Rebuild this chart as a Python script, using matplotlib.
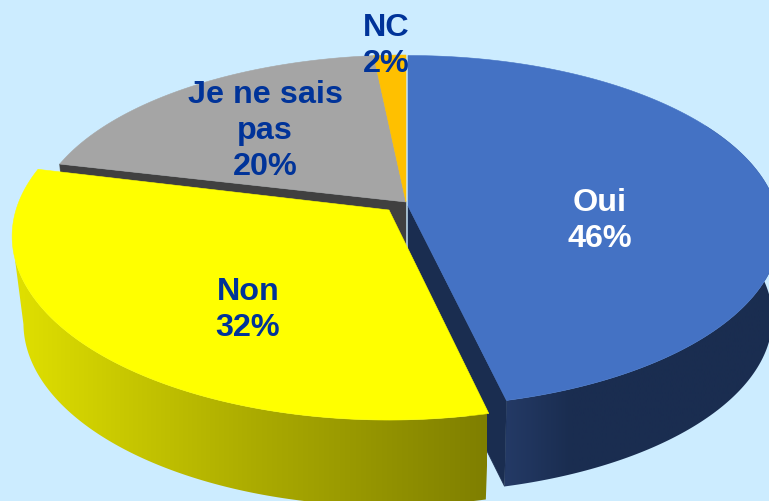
import itertools
import numpy as np
import matplotlib
matplotlib.use("Agg")
import matplotlib.pyplot as plt
from matplotlib.colors import LinearSegmentedColormap
from matplotlib.patches import Polygon

# shares (labels show them rounded)
categories = ["Oui", "Non", "Je ne sais\npas", "NC"]
shares = [46.3, 32.45, 19.65, 1.6]

BG = "#CCECFF"
TOP_COLORS = ["#4472C4", "#FFFF00", "#A5A5A5", "#FFC000"]
LABEL_COLORS = ["white", "#003399", "#003399", "#003399"]
LABEL_POS = [(600, 221), (248, 310), (265, 131), (386, 46)]

# per slice layout in pixels: apex x, apex y, half width, half height
LAYOUT = [
    (408, 206, 368, 172),
    (389, 210, 373, 180),
    (406, 202, 368, 168),
    (406, 202, 368, 168),
]
PERSP = 0.143
DEPTH = 87
BOTTOM_X = [0.98, 0.97, 0.98, 0.98]
BOTTOM_Y = 0.995

zorder = itertools.count(2)


def arc(a0, a1, layout, n=160):
    """Outer edge of a slice, angles clockwise from the far side."""
    ax_, ay_, f, g = layout
    th = np.radians(np.linspace(a0, a1, n))
    w = 1 + PERSP * np.cos(th)
    return np.column_stack([ax_ + f * np.sin(th) / w, ay_ - g * np.cos(th) / w])


def lower(i):
    ax_, ay_, f, g = LAYOUT[i]
    return (ax_, ay_ + DEPTH, f * BOTTOM_X[i], g * BOTTOM_Y)


def face(ax, pts, color):
    ax.add_patch(Polygon(pts, closed=True, fc=color, ec=color, lw=0.4, zorder=next(zorder)))


def gradient_wall(ax, pts, colors, x0, x1):
    cmap = LinearSegmentedColormap.from_list("wall", colors)
    im = ax.imshow(np.linspace(0, 1, 256)[None, :], cmap=cmap, aspect="auto",
                   extent=(x0, x1, 501, 0), zorder=next(zorder))
    patch = Polygon(pts, closed=True, transform=ax.transData, fc="none", ec="none")
    ax.add_patch(patch)
    im.set_clip_path(patch)


def cut_face(ax, i, angle, color):
    top_pt = arc(angle, angle, LAYOUT[i], 1)[0]
    bot_pt = arc(angle, angle, lower(i), 1)[0]
    face(ax, [apex[i], top_pt, bot_pt, (apex[i][0], apex[i][1] + DEPTH)], color)


fig = plt.figure(figsize=(7.69, 5.01), dpi=100, facecolor=BG)
ax = fig.add_axes([0, 0, 1, 1])
ax.set_facecolor(BG)

edges = np.concatenate([[0], np.cumsum(shares)]) * 3.6
wedges = [arc(edges[i], edges[i + 1], LAYOUT[i]) for i in range(4)]
apex = [np.array(l[:2], dtype=float) for l in LAYOUT]

# grey slice: cut face under its front edge, then NC and grey tops
cut_face(ax, 2, edges[2], "#404040")
face(ax, np.vstack([apex[2], wedges[2]]), TOP_COLORS[2])
face(ax, np.vstack([apex[3], wedges[3]]), TOP_COLORS[3])
ax.plot([408, 408], [205, 246], color="#B4B8BE", lw=0.8, zorder=next(zorder))

# Oui: outer wall, cut face, top
gradient_wall(ax, np.vstack([arc(60, edges[1], LAYOUT[0]), arc(edges[1], 60, lower(0))]),
              ["#243A66", "#1A2D50", "#1A2D50", "#1A2D50", "#1A2D50"], 505, 769)
cut_face(ax, 0, edges[1], "#1A2D50")
face(ax, np.vstack([apex[0], wedges[0]]), TOP_COLORS[0])

# Non: outer wall with a straight silhouette on the left, then top
top = arc(edges[1], edges[2], LAYOUT[1])
bot = arc(edges[1], edges[2], lower(1))
i_top = top[:, 0].argmin()
i_bot = bot[:, 0].argmin()
gradient_wall(ax, np.vstack([top[:i_top + 1], bot[:i_bot + 1][::-1]]),
              ["#E0E000", "#ACAC00", "#7F7F00"], 15, 487)
face(ax, np.vstack([apex[1], wedges[1]]), TOP_COLORS[1])

for name, share, pos, col in zip(categories, shares, LABEL_POS, LABEL_COLORS):
    ax.text(pos[0], pos[1], f"{name}\n{round(share)}%", color=col, ha="center", va="center",
            family=["Liberation Sans", "DejaVu Sans"], fontweight="bold", fontsize=23.3,
            linespacing=1.27, zorder=100)

ax.set_xlim(0, 769)
ax.set_ylim(501, 0)
ax.axis("off")
fig.savefig("out.png", dpi=100, facecolor=BG)
